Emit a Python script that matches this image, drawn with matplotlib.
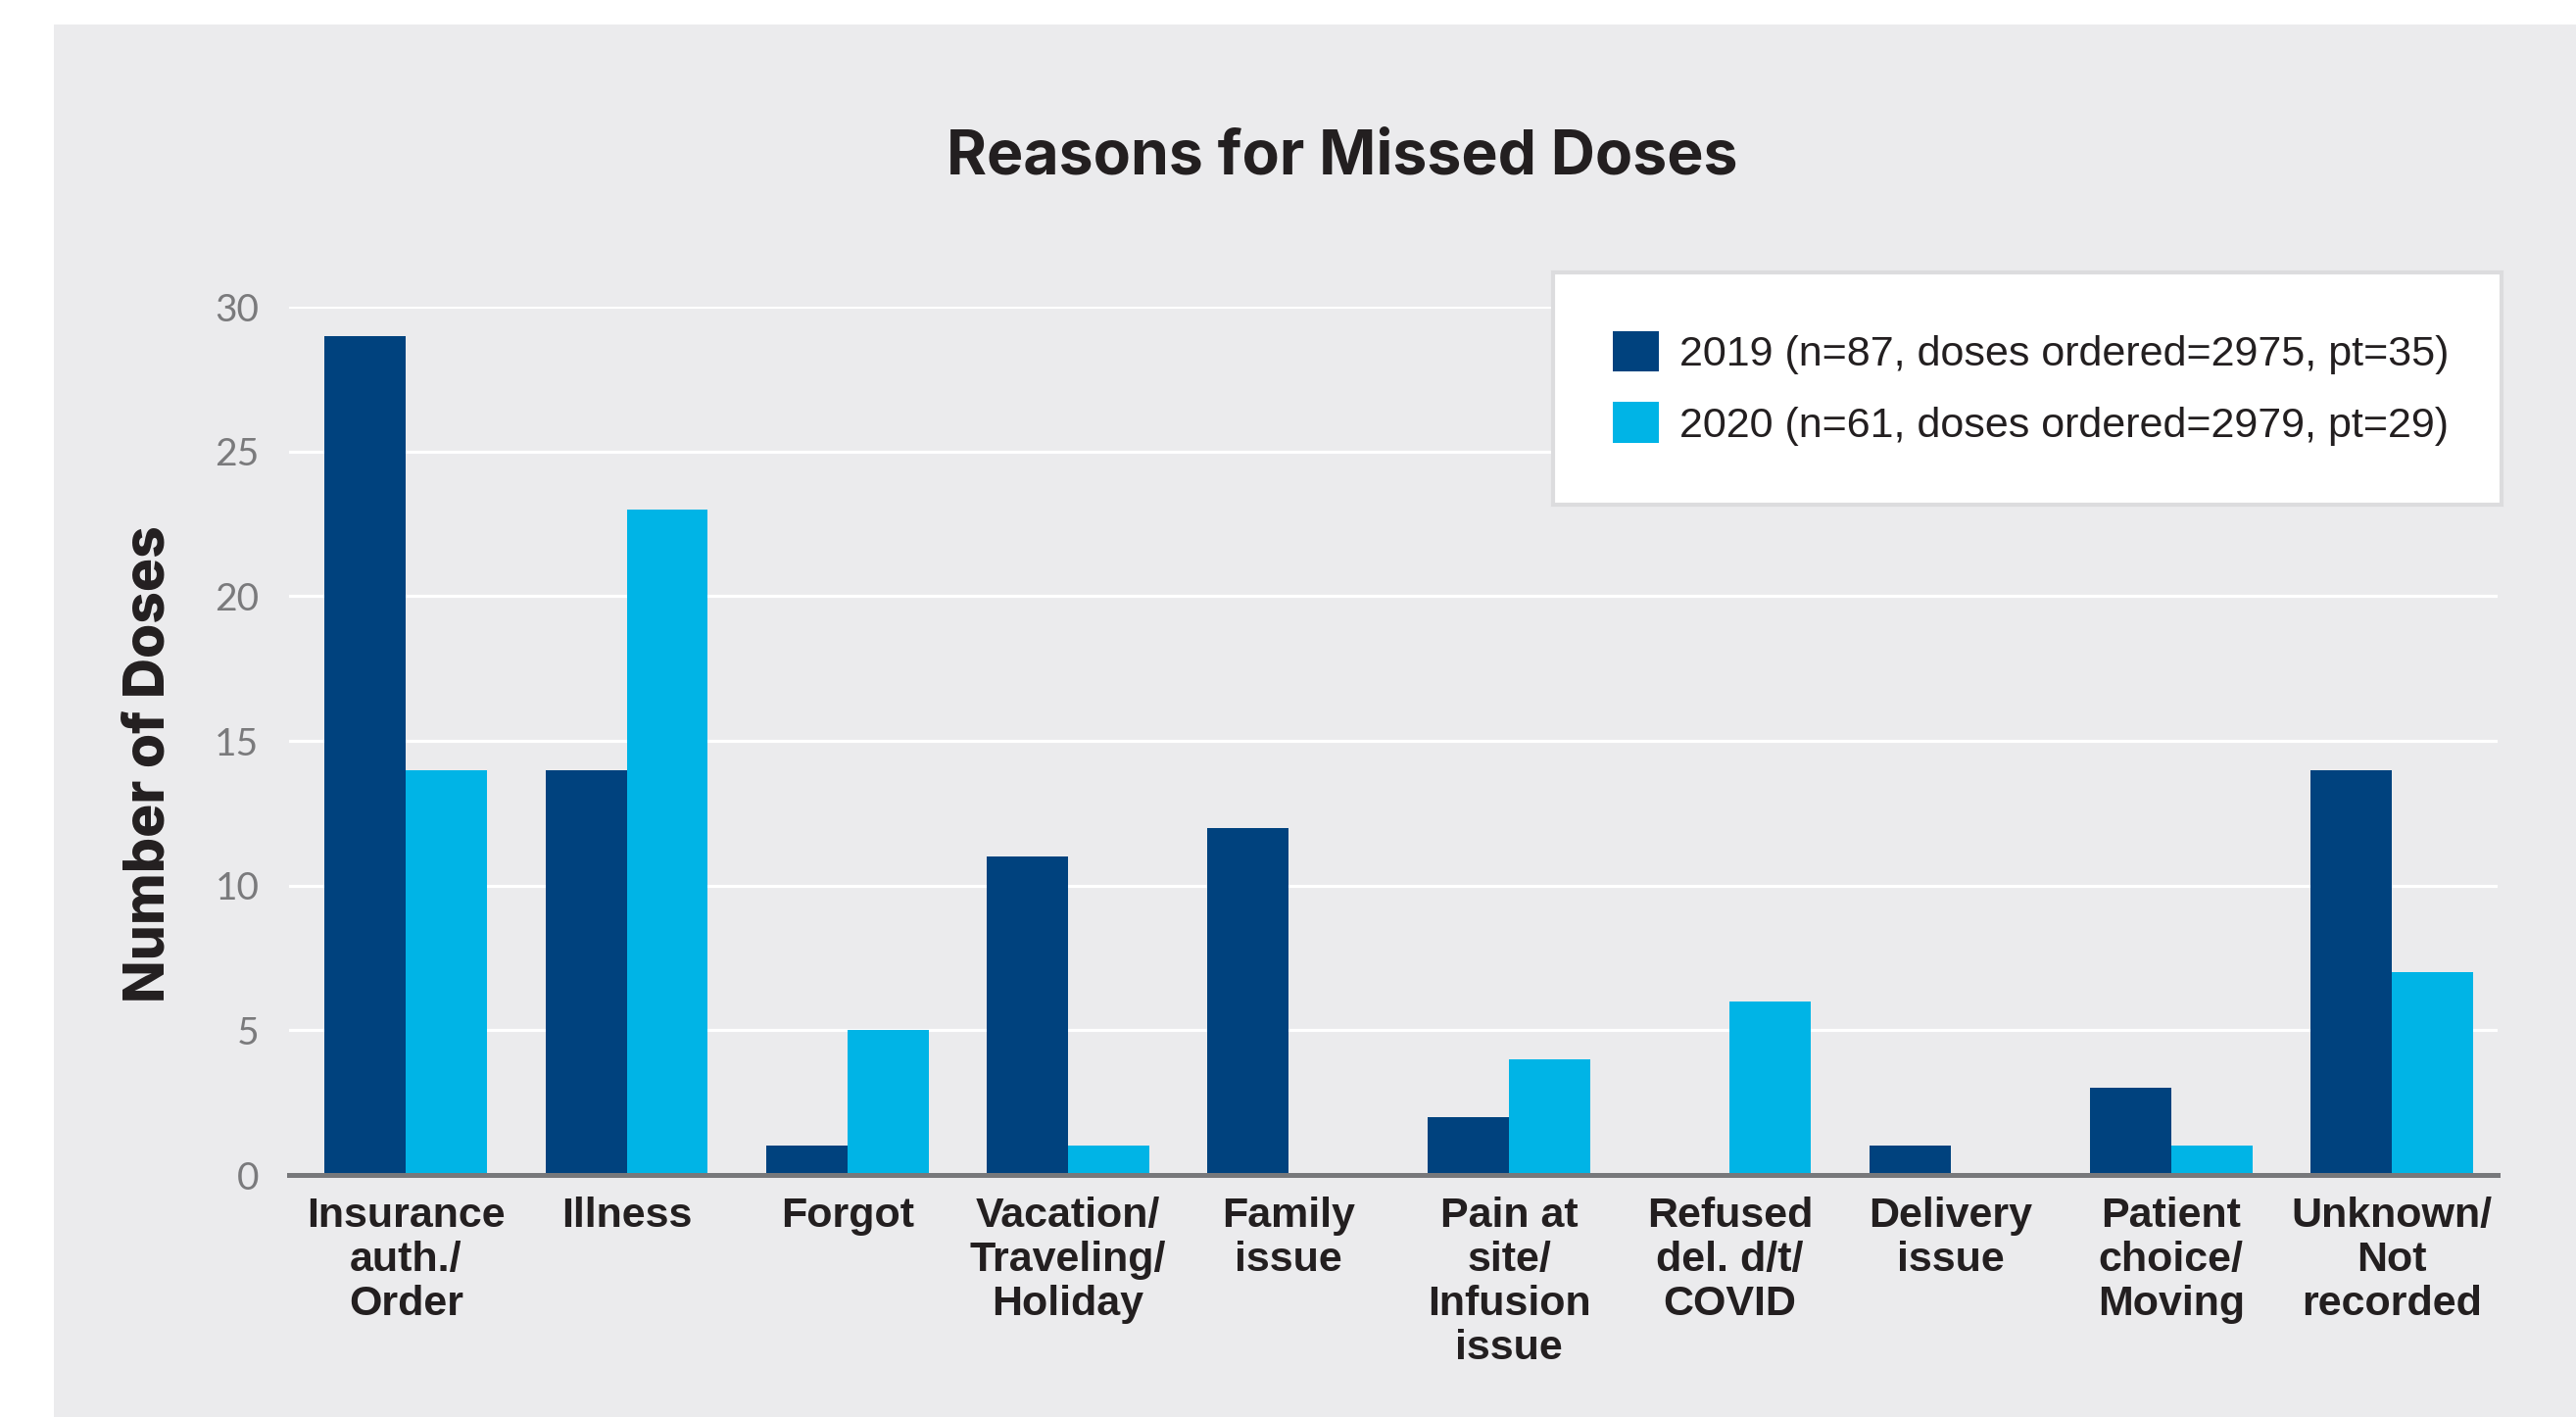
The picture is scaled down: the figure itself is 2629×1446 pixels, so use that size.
import numpy as np
import matplotlib.pyplot as plt
from matplotlib.patches import Rectangle

# Categories and values
categories = ['Insurance\nauth./\nOrder', 'Illness', 'Forgot', 'Vacation/\nTraveling/\nHoliday',
              'Family\nissue', 'Pain at\nsite/\nInfusion\nissue', 'Refused\ndel. d/t/\nCOVID',
              'Delivery\nissue', 'Patient\nchoice/\nMoving', 'Unknown/\nNot\nrecorded']
doses_2019 = [29, 14, 1, 11, 12, 2, 0, 1, 3, 14]
doses_2020 = [14, 23, 5, 1, 0, 4, 6, 0, 1, 7]
labels = ['2019 (n=87, doses ordered=2975, pt=35)', '2020 (n=61, doses ordered=2979, pt=29)']
yticks = [0, 5, 10, 15, 20, 25, 30]

dark_blue = '#00427e'
light_blue = '#00b4e6'
panel_gray = '#ebebed'
narrow = ['Liberation Sans Narrow', 'Liberation Sans', 'DejaVu Sans']

fig = plt.figure(figsize=(26.29, 14.46), dpi=100)
fig.patch.set_facecolor('white')
# gray panel behind the chart
fig.patches.append(Rectangle((55 / 2629, 0), 1, 1 - 25 / 1446, transform=fig.transFigure,
                             facecolor=panel_gray, edgecolor='none', zorder=-5))

ax = fig.add_axes([0.1122, 0.1708, 0.8574, 0.6127])
ax.set_facecolor('none')

x = np.arange(len(categories))
w = 0.368
ax.bar(x - w / 2, doses_2019, width=w, color=dark_blue, label=labels[0], zorder=3)
ax.bar(x + w / 2, doses_2020, width=w, color=light_blue, label=labels[1], zorder=3)

ax.set_xlim(-0.53, 9.48)
ax.set_ylim(0, 30)
ax.set_yticks(yticks)
ax.set_yticklabels([str(t) for t in yticks], fontsize=28, color='#7a7a7c', family=['Lato', 'DejaVu Sans'])
ax.set_xticks(x)
ax.set_xticklabels(categories, fontsize=31, fontweight='bold', color='#231f20',
                   family=narrow, linespacing=1.16, va='top')
ax.tick_params(axis='both', length=0)
ax.tick_params(axis='y', pad=22)
ax.tick_params(axis='x', pad=16)

ax.grid(axis='y', color='white', linewidth=2.3, zorder=1)
ax.set_axisbelow(True)
for s in ['top', 'right', 'left']:
    ax.spines[s].set_visible(False)
ax.spines['bottom'].set_color('#77787b')
ax.spines['bottom'].set_linewidth(3.6)
ax.spines['bottom'].set_zorder(4)

fig.text(0.521, 0.8885, 'Reasons for Missed Doses', fontsize=45, fontweight='bold',
         color='#231f20', ha='center', va='center', family=['Inter', 'DejaVu Sans'])
fig.text(0.058, 0.4606, 'Number of Doses', fontsize=41, fontweight='heavy', color='#231f20',
         rotation=90, ha='center', va='center', family=['Inter', 'DejaVu Sans'])

leg = ax.legend(loc='upper left', bbox_to_anchor=(0.603, 0.808, 0.368, 0.0),
                bbox_transform=fig.transFigure, mode='expand',
                prop={'family': narrow, 'size': 31},
                handlelength=1.1, handleheight=1.1, handletextpad=0.5,
                labelspacing=0.65, borderpad=1.4, borderaxespad=0,
                fancybox=False, framealpha=1, edgecolor='#dcdcde')
leg.get_frame().set_linewidth(3)
for t in leg.get_texts():
    t.set_color('#231f20')

fig.savefig('out.png', dpi=100)
